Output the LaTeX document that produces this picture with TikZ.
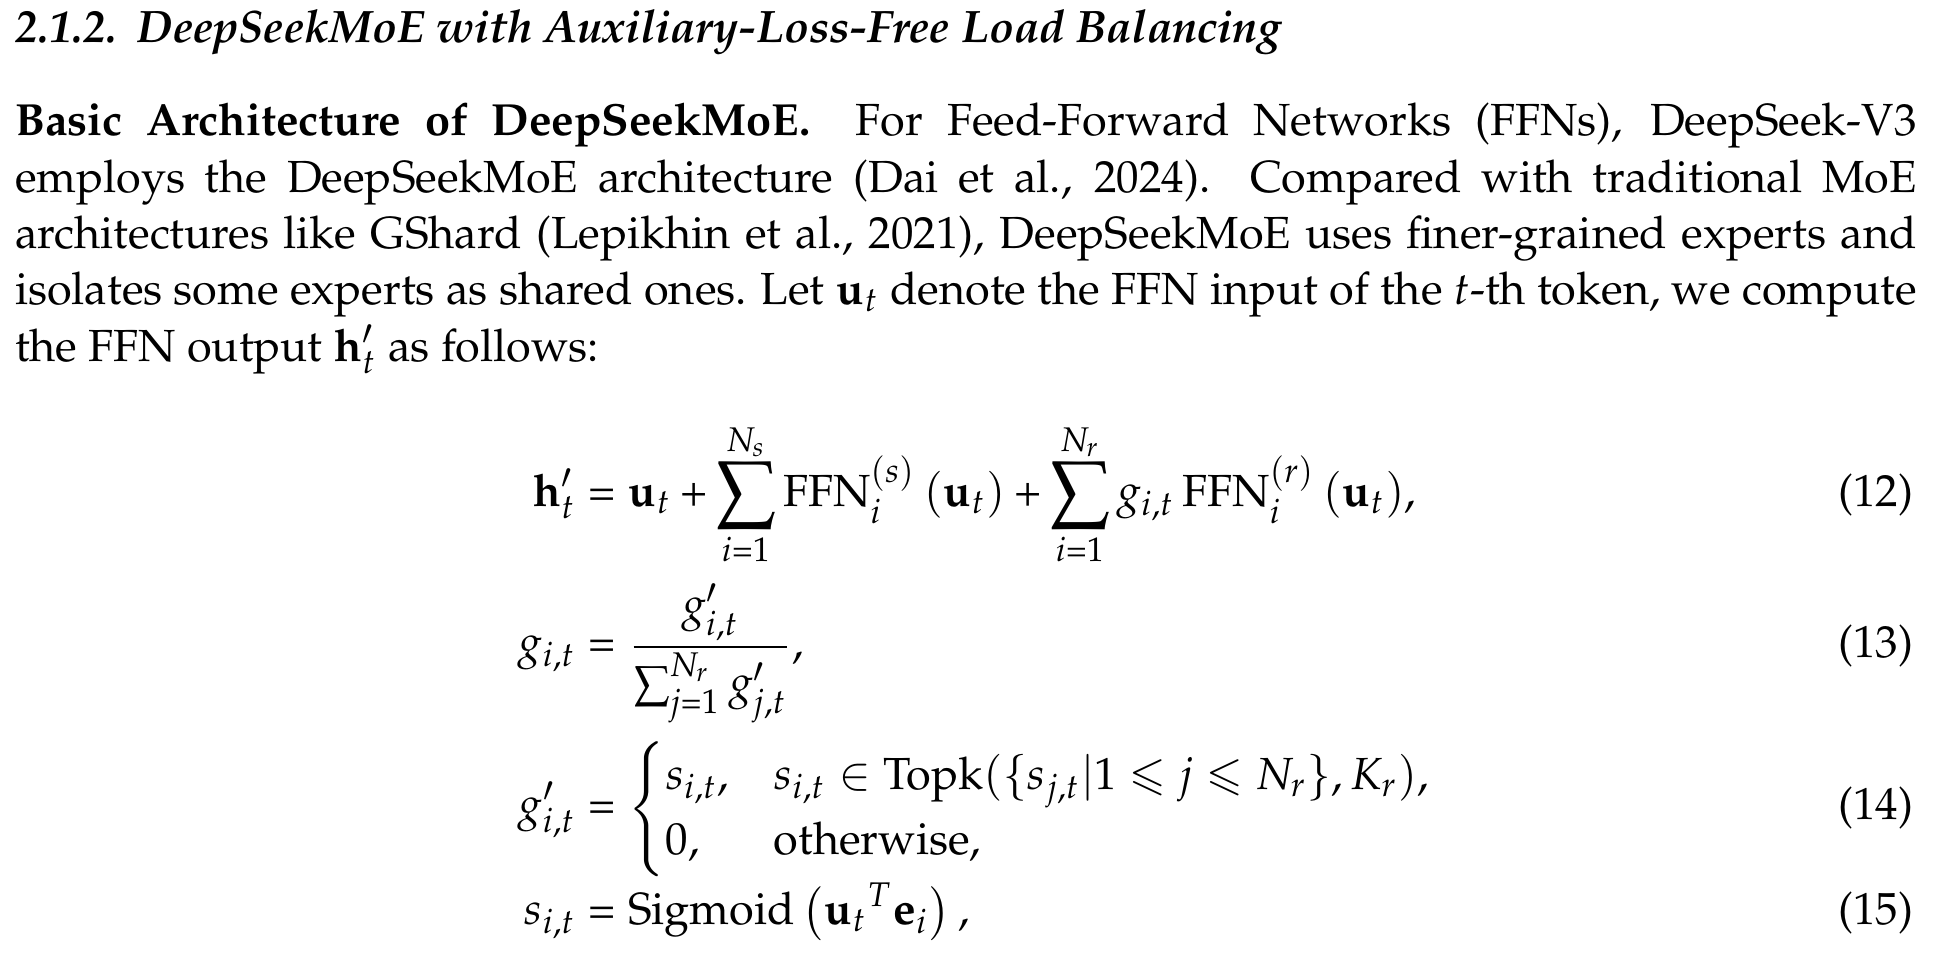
\documentclass[tikz,border=0pt]{standalone}
\usepackage[T1]{fontenc}
\usepackage{amsmath,amssymb}
\usepackage{mathpazo}
\usepackage{graphicx}
\DeclareMathSymbol{=}{\mathrel}{operators}{"3D}
\DeclareMathSymbol{+}{\mathbin}{operators}{"2B}
\DeclareMathOperator{\FFN}{FFN}
\DeclareMathOperator{\Topk}{Topk}
\DeclareMathOperator{\Sigmoid}{Sigmoid}
\newcommand{\bsum}{\mathop{\vcenter{\hbox{\scalebox{1.2}{$\displaystyle\sum$}}}}\limits}
\tikzset{
  txt/.style={inner sep=0pt, outer sep=0pt, font=\fontsize{10}{12.5}\selectfont},
  head/.style={inner sep=0pt, outer sep=0pt, font=\fontsize{10.1}{12}\selectfont\bfseries\itshape},
  eqn/.style={inner sep=0pt, outer sep=0pt, font=\fontsize{10}{12}\selectfont}
}
\begin{document}
\begin{tikzpicture}[x=0.2222pt, y=-0.2222pt]
\fill[white] (0,0) rectangle (1933,974);
\useasboundingbox (0,0) rectangle (1933,974);
\node[head, anchor=base west] (heading) at (15,43) {2.1.2.\hspace{0.45em}DeepSeekMoE with Auxiliary-Loss-Free Load Balancing};
\node[txt, anchor=base west] (para) at (15,136) {\parbox[t]{422.6pt}{\fontsize{10}{12.5}\selectfont
\textbf{Basic Architecture of DeepSeekMoE.}\quad For Feed-Forward Networks (FFNs), DeepSeek-V3\linebreak
employs the DeepSeekMoE architecture (Dai et~al., 2024).  Compared with traditional MoE\linebreak
architectures like GShard (Lepikhin et~al., 2021), DeepSeekMoE uses finer-grained experts and\linebreak
isolates some experts as shared ones. Let $\mathbf{u}_t$ denote the FFN input of the $t$-th token, we compute\linebreak
the FFN output $\mathbf{h}_t'$ as follows:}};
% equation 12
\node[eqn, anchor=base east] (e12l) at (576,507) {$\displaystyle \mathbf{h}_t'$};
\node[eqn, anchor=base west] (e12r) at (576,507) {$\displaystyle {}= \mathbf{u}_t + \bsum_{i=1}^{N_s} \FFN^{(s)}_i \,(\mathbf{u}_t) + \bsum_{i=1}^{N_r} g_{i,t} \FFN^{(r)}_i \,(\mathbf{u}_t),$};
\node[eqn, anchor=base east] (t12) at (1913,507) {(12)};
% equation 13
\node[eqn, anchor=base east] (e13l) at (576,658) {$\displaystyle g_{i,t}$};
\node[eqn, anchor=base west] (e13r) at (576,658) {$\displaystyle {}= \frac{g'_{i,t}}{\sum_{j=1}^{N_r} g'_{j,t}},$};
\node[eqn, anchor=base east] (t13) at (1913,658) {(13)};
% equation 14
\node[eqn, anchor=base east] (e14l) at (576,820) {$\displaystyle g'_{i,t}$};
\node[eqn, anchor=base west] (e14r) at (576,820) {$\displaystyle {}= \begin{cases} s_{i,t}, & s_{i,t} \in \Topk(\{ s_{j,t} | 1 \leqslant j \leqslant N_r \}, K_r), \\ 0, & \text{otherwise}, \end{cases}$};
\node[eqn, anchor=base east] (t14) at (1913,820) {(14)};
% equation 15
\node[eqn, anchor=base east] (e15l) at (576,925) {$\displaystyle s_{i,t}$};
\node[eqn, anchor=base west] (e15r) at (576,925) {$\displaystyle {}= \Sigmoid \mathinner{\bigl( {\mathbf{u}_t}^{T} \mathbf{e}_i \bigr)} ,$};
\node[eqn, anchor=base east] (t15) at (1913,925) {(15)};
\end{tikzpicture}
\end{document}
